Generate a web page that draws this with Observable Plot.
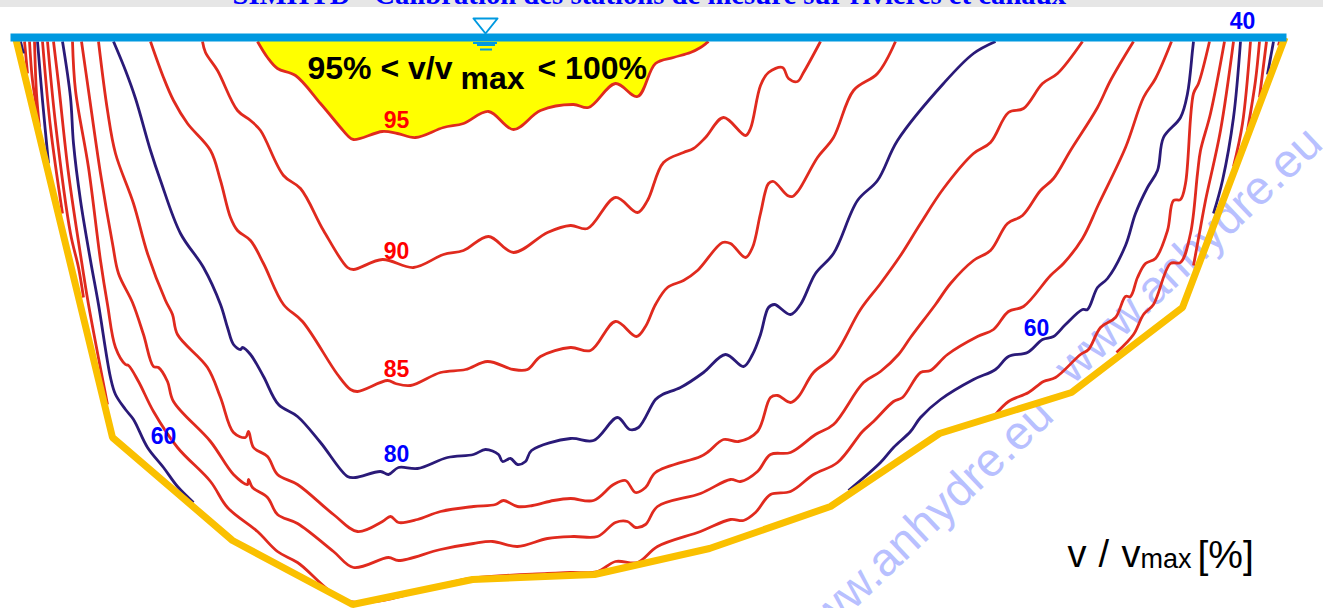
<!DOCTYPE html>
<html><head><meta charset="utf-8">
<script src="https://cdn.jsdelivr.net/npm/d3@7"></script>
<script src="https://cdn.jsdelivr.net/npm/@observablehq/plot@0.6"></script>
<style>html,body{margin:0;padding:0;background:#fff;overflow:hidden}svg{display:block}</style>
</head><body><div id="chart"></div>
<script>
const c95=[[257,41],[267,57],[277,68],[295,75],[320,103],[340,127],[347,135],[353,139],[382,131],[397,133],[415,137],[443,127],[463,123],[488,111],[513,129],[540,110],[573,104],[588,107],[615,83],[637,96],[655,63],[673,57],[690,52],[700,47],[708,41]];
const c90=[[202,41],[205,52],[217,70],[237,110],[250,120],[260,130],[283,175],[300,188],[323,230],[347,267],[353,269],[382,259],[413,267],[443,254],[463,250],[488,236],[513,252],[547,232],[570,225],[587,228],[615,197],[637,212],[647,200],[663,162],[683,152],[693,148],[705,137],[723,117],[745,135],[750,128],[760,85],[768,72],[782,67],[788,78],[797,81],[803,72],[820,41]];
const c85=[[150,41],[163,77],[173,100],[187,123],[210,150],[220,180],[230,217],[237,230],[250,240],[263,263],[283,304],[302,321],[337,374],[350,389],[357,391],[387,380],[395,383],[410,385],[440,372],[465,369],[487,361],[513,369],[527,369],[540,356],[570,347],[590,350],[615,321],[636,336],[645,326],[655,304],[667,287],[683,280],[697,270],[722,242],[730,243],[745,257],[752,247],[760,213],[768,183],[773,181],[787,195],[792,196],[798,190],[817,157],[833,137],[853,90],[877,73],[895,41]];
const c80=[[113,41],[125,70],[135,98],[150,150],[160,180],[180,233],[203,267],[220,304],[227,327],[233,344],[240,349],[242,347],[250,354],[263,376],[278,404],[297,416],[320,442],[347,476],[355,477],[380,471],[388,474],[398,467],[417,468],[447,457],[473,454],[485,449],[498,454],[502,461],[510,458],[517,464],[525,461],[531,450],[570,438],[593,440],[617,417],[629,429],[638,427],[655,399],[662,394],[680,387],[703,372],[725,354],[743,366],[752,354],[760,334],[768,307],[774,304],[790,314],[800,304],[815,273],[833,253],[857,200],[877,180],[897,140],[943,83],[973,53],[995,41]];
const c75=[[98,41],[107,110],[115,153],[133,203],[147,253],[165,300],[172,314],[177,334],[207,367],[220,397],[233,432],[245,437],[248,431],[253,447],[267,456],[277,474],[297,484],[333,514],[357,531],[382,521],[390,516],[398,522],[417,519],[440,511],[473,506],[495,504],[503,500],[517,506],[532,505],[553,500],[570,498],[593,500],[613,484],[625,480],[635,492],[645,487],[655,472],[700,456],[708,451],[723,439],[738,441],[757,431],[770,397],[777,395],[790,402],[798,396],[813,372],[833,356],[860,309],[880,283],[900,255],[920,223],[943,188],[973,153],[990,142],[1008,112],[1023,108],[1042,83],[1057,73],[1082,41]];
const c70=[[81,41],[88,90],[100,173],[112,243],[118,273],[132,302],[143,334],[153,366],[158,367],[167,381],[173,401],[210,441],[233,474],[247,484],[248,479],[252,487],[267,497],[277,514],[297,523],[333,551],[353,567],[388,557],[398,560],[440,549],[473,543],[492,541],[517,546],[547,538],[573,536],[597,536],[615,522],[627,521],[635,527],[645,524],[657,506],[700,493],[730,479],[740,481],[757,471],[770,454],[790,452],[815,434],[833,424],[863,382],[880,371],[898,354],[910,337],[935,304],[950,283],[973,260],[990,250],[1007,223],[1022,215],[1040,190],[1053,178],[1070,150],[1097,107],[1110,80],[1133,41]];
const c65=[[72,41],[75,90],[88,167],[100,260],[107,304],[115,347],[125,364],[128,365],[138,381],[153,411],[177,447],[210,481],[227,507],[257,531],[277,551],[297,562],[350,601],[470,578],[547,573],[570,572],[597,571],[615,561],[637,562],[657,546],[700,531],[730,519],[743,520],[755,512],[770,494],[790,491],[813,474],[837,462],[862,431],[873,421],[893,401],[902,397],[920,372],[930,370],[947,354],[977,336],[993,329],[1008,311],[1023,306],[1050,275],[1063,263],[1082,238],[1098,204],[1125,147],[1143,97],[1155,78],[1171,41]];
const c60Left=[[62,41],[70,97],[73,143],[80,200],[90,260],[98,304],[110,377],[115,394],[125,409],[133,419],[147,447],[163,467],[177,486],[193,502]];
const c60Right=[[848,490],[880,462],[893,447],[910,431],[920,417],[940,399],[973,379],[995,369],[1008,356],[1027,352],[1042,339],[1053,336],[1065,324],[1082,309],[1087,309],[1097,287],[1107,278],[1125,245],[1135,213],[1147,187],[1157,170],[1163,137],[1180,117],[1187,93],[1192,50],[1193,41]];
const c55Left=[[53,41],[58,83],[68,173],[82,267],[88,304],[107,404]];
const c55Right=[[995,414],[1008,401],[1028,392],[1043,381],[1055,377],[1080,354],[1088,349],[1100,327],[1115,317],[1125,296],[1130,296],[1137,277],[1145,263],[1155,258],[1167,230],[1173,200],[1180,199],[1185,183],[1193,93],[1198,83],[1209,41]];
const c50Left=[[47,41],[55,123],[70,233],[78,267],[83,297]];
const c50Right=[[1116,352],[1133,334],[1143,314],[1153,304],[1170,263],[1180,262],[1190,233],[1197,173],[1200,150],[1210,113],[1224,41]];
const c45Left=[[42,41],[50,127],[62,213]];
const c45Right=[[1193,265],[1200,227],[1205,200],[1220,130],[1233,41]];
const c40Left=[[37,41],[42,100],[48,163]];
const c40Right=[[1213,213],[1222,180],[1233,117],[1240,41]];
const c35Left=[[34,41],[36,93],[39,127]];
const c35Right=[[1233,166],[1242,123],[1250,41]];
const c30Left=[[29,41],[32,80],[37,112]];
const c30Right=[[1247,130],[1255,80],[1259,41]];
const c25Left=[[24,41],[27,73]];
const c25Right=[[1259,97],[1266,41]];
const c20Left=[[20,41],[23,53]];
const c20Right=[[1267,74],[1273,41]];
const c15Right=[[1278,45],[1279,41]];
const bed=[[15,37],[112,437],[232,540],[352,604],[472,579],[594,574],[709,548],[830,506],[939,433],[1071,392],[1182,307],[1284.5,37]];
const surface=[[10,37],[1286,37]];
const surfaceMark=[[473,18],[497,18],[485,33],[473,18]];
const surfaceTicks=[[473,497,42.5],[477,495,44.5],[480,492,49]];
const redLines=[c95,c90,c85,c75,c70,c65,c55Left,c55Right,c50Left,c50Right,c45Left,c45Right,c35Left,c35Right,c30Left,c30Right,c25Left,c25Right,c15Right];
const navyLines=[c80,c60Left,c60Right,c40Left,c40Right,c20Left,c20Right];
const isoLabels=[["95",396,127,"#f00"],["90",396,258,"#f00"],["85",396,376,"#f00"],["80",396,461,"#00f"],["60",163,443,"#00f"],["60",1036,335,"#00f"],["40",1242,28,"#00f"]];
const watermarks=[[793,646],[1062,374]];
const title="SIMHYD - Calibration des stations de mesure sur rivières et canaux";

const curve="catmull-rom";
const lineMarks=(list,stroke)=>list.map(d=>Plot.line(d,{x:"0",y:"1",stroke,strokeWidth:2.8,curve,strokeLinejoin:"round",strokeLinecap:"butt"}));
const txt=(t,x,y,fontSize,opts={})=>Plot.text([t],{x:()=>x,y:()=>y,text:d=>d,fontSize,textAnchor:"start",lineAnchor:"bottom",fontFamily:"Liberation Sans",fill:"#000",...opts});

const plot=Plot.plot({
  width:1323,height:608,margin:0,
  x:{domain:[0,1323],range:[0,1323],axis:null},
  y:{domain:[0,608],range:[0,608],axis:null},
  style:{background:"#fff",overflow:"visible"},
  marks:[
    Plot.rect([0],{x1:()=>0,x2:()=>1323,y1:()=>0,y2:()=>7,fill:"#e6e6e6"}),
    txt(title,232,3,28.7,{fontFamily:"Liberation Serif",fontWeight:"bold",fill:"#00f"}),
    ...watermarks.map(w=>txt("www.anhydre.eu",w[0],w[1],47,{fill:"#b8c0ff",rotate:-43.5,lineAnchor:"middle"})),
    Plot.areaY(c95,{x:"0",y1:()=>41,y2:"1",fill:"#ffff00",curve}),
    ...lineMarks(redLines,"#e02a1e"),
    ...lineMarks(navyLines,"#2a1a78"),
    Plot.line(bed,{x:"0",y:"1",stroke:"#fac000",strokeWidth:7,strokeLinejoin:"miter",strokeLinecap:"butt"}),
    Plot.line(surface,{x:"0",y:"1",stroke:"#0099e0",strokeWidth:8,strokeLinecap:"butt"}),
    Plot.line(surfaceMark,{x:"0",y:"1",stroke:"#0099e0",strokeWidth:2}),
    Plot.ruleY(surfaceTicks,{x1:"0",x2:"1",y:"2",stroke:"#0099e0",strokeWidth:2}),
    Plot.text(isoLabels,{x:"1",y:"2",text:"0",fill:"3",fontSize:23,fontWeight:"bold",fontFamily:"Liberation Sans",lineAnchor:"bottom"}),
    txt("95% < v/v",307,78,32,{fontWeight:"bold"}),
    txt("max",460,88,32,{fontWeight:"bold"}),
    txt("< 100%",537,78,32,{fontWeight:"bold"}),
    txt("v",1067,566,38),
    txt("/",1098,566,38),
    txt("v",1121,566,38),
    txt("max",1140,567,27),
    txt("[%]",1197,567,39)
  ]
});
document.getElementById("chart").append(plot);
</script></body></html>
